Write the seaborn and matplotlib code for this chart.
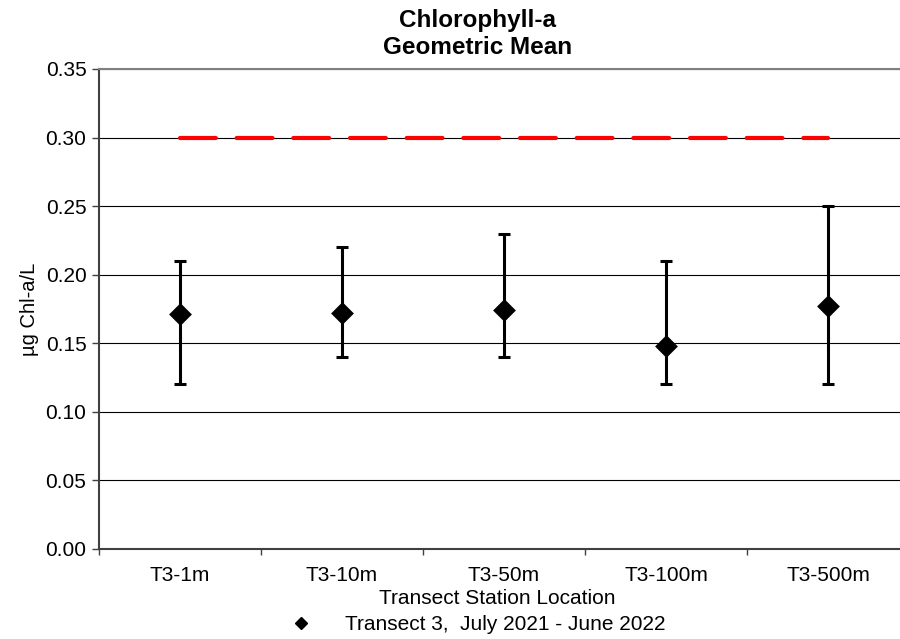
import numpy as np
import pandas as pd
import seaborn as sns
import matplotlib.pyplot as plt
from matplotlib.lines import Line2D

stations = ["T3-1m", "T3-10m", "T3-50m", "T3-100m", "T3-500m"]
geo_mean = [0.171, 0.172, 0.174, 0.148, 0.177]
lower = [0.12, 0.14, 0.14, 0.12, 0.12]
upper = [0.21, 0.22, 0.23, 0.21, 0.25]
criterion = [0.30, 0.30, 0.30, 0.30, 0.30]

sns.set_style("white")
plt.rcParams["font.family"] = ["Liberation Sans", "DejaVu Sans"]
plt.rcParams["text.color"] = "black"
plt.rcParams["axes.labelcolor"] = "black"
plt.rcParams["xtick.color"] = "black"
plt.rcParams["ytick.color"] = "black"

data = pd.DataFrame({"station": stations, "mean": geo_mean,
                     "lower": lower, "upper": upper, "criterion": criterion})

fig = plt.figure(figsize=(9, 6.39), dpi=100)
ax = fig.add_axes([99 / 900, 90 / 639, 810 / 900, 480 / 639])

# red dashed criterion line
sns.lineplot(data=data, x="station", y="criterion", color="red",
             linewidth=3, ax=ax, zorder=3, sort=False)
ax.lines[-1].set_dashes((8.6, 5))
ax.lines[-1].set_dash_capstyle("round")

# error bars (range)
pos = np.arange(len(stations))
m = data["mean"].to_numpy()
yerr = [m - data["lower"].to_numpy(), data["upper"].to_numpy() - m]
ax.errorbar(pos, m, yerr=yerr, fmt="none", ecolor="black",
            elinewidth=2.2, capsize=4.3, capthick=2.2, zorder=4)

# diamonds
sns.scatterplot(data=data, x="station", y="mean", marker="D", s=135,
                color="black", linewidth=0, ax=ax, zorder=5)

ax.set_xlim(-0.5, 4.5)
ax.set_ylim(0, 0.35)
ax.set_yticks(np.arange(0, 0.351, 0.05))
ax.set_yticklabels([f"{v:.2f}" for v in np.arange(0, 0.351, 0.05)])
ax.yaxis.grid(True, color="black", linewidth=0.8)
ax.set_axisbelow(True)

ax.spines["right"].set_visible(False)
ax.spines["top"].set_color("#808080")
ax.spines["top"].set_linewidth(1.5)
for s in ["left", "bottom"]:
    ax.spines[s].set_color("#404040")
    ax.spines[s].set_linewidth(1.5)

ax.set_xticks(pos)
ax.set_xticks(np.arange(-0.5, 4.6, 1), minor=True)
ax.tick_params(axis="x", which="major", length=0, pad=12, labelsize=15)
ax.tick_params(axis="x", which="minor", length=4, width=1, color="#404040",
               direction="out", bottom=True)
ax.tick_params(axis="y", length=5, width=1, color="#404040", pad=4,
               labelsize=15, left=True)

ax.set_xlabel("")
ax.set_ylabel("µg Chl-a/L", fontsize=14.5, labelpad=5)
fig.text(497 / 900, 1 - 598 / 639, "Transect Station Location",
         ha="center", va="center", fontsize=15)

fig.text(478 / 900, 1 - 21 / 639, "Chlorophyll-a", ha="center", va="center",
         fontsize=17.5, fontweight="bold")
fig.text(478 / 900, 1 - 48 / 639, "Geometric Mean", ha="center", va="center",
         fontsize=17.5, fontweight="bold")

handle = Line2D([], [], marker="D", color="black", linestyle="none",
                markersize=6)
fig.legend([handle], ["Transect 3,  July 2021 - June 2022"],
           loc="center left", bbox_to_anchor=(280 / 900, 1 - 625 / 639),
           frameon=False, fontsize=15, handletextpad=1.1, borderpad=0,
           borderaxespad=0)

fig.savefig("out.png", dpi=100)
